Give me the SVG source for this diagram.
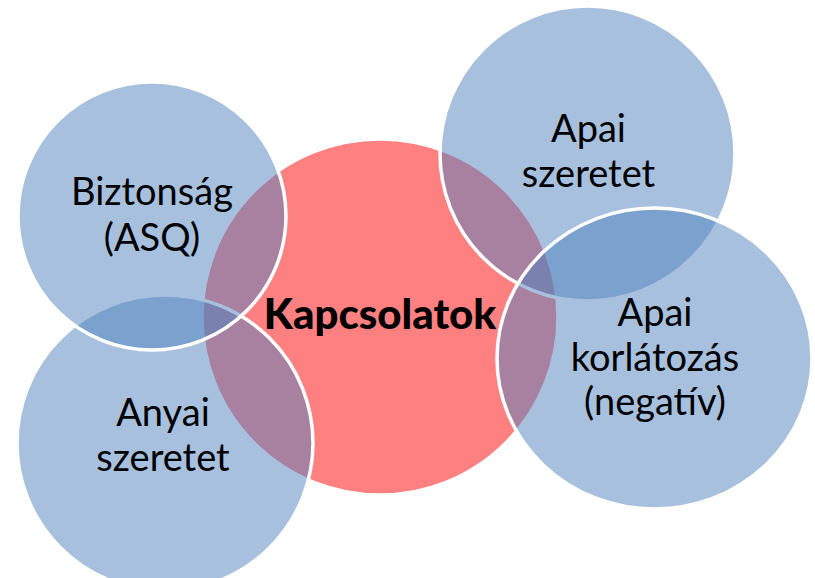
<svg xmlns="http://www.w3.org/2000/svg" width="815" height="578" viewBox="0 0 815 578">
<style>
.red{fill:#ff8080;stroke:#ffffff;stroke-width:3.5}
.blue{fill:#4f81bd;fill-opacity:0.5;stroke:#ffffff;stroke-width:3.5}
text{font-family:Lato,"Open Sans","DejaVu Sans",sans-serif;font-size:38px;fill:#000000;text-anchor:middle}
.bold{font-weight:900;font-size:42px}
</style>
<rect width="815" height="578" fill="#ffffff"/>
<g id="kapcsolatok-shape"><circle class="red" cx="380" cy="317" r="178"/></g>
<g id="anyai-shape"><circle class="blue" cx="165" cy="443" r="148"/></g>
<g id="biztonsag-shape"><circle class="blue" cx="152" cy="216" r="134"/></g>
<g id="apai-szeretet-shape"><circle class="blue" cx="587.5" cy="153.5" r="147.5"/></g>
<g id="apai-korlatozas-shape"><ellipse class="blue" cx="654.5" cy="358.5" rx="157.5" ry="150.5"/></g>
<g id="connectors"></g>
<g id="labels">
<text x="152" y="205">Biztonság</text>
<text x="152" y="251">(ASQ)</text>
<text x="588.5" y="142">Apai</text>
<text x="588.5" y="187">szeretet</text>
<text x="163" y="426">Anyai</text>
<text x="163" y="471">szeretet</text>
<text x="655" y="326">Apai</text>
<text x="655" y="371">korlátozás</text>
<text x="655" y="415">(negatív)</text>
<text class="bold" x="380" y="329">Kapcsolatok</text>
</g>
</svg>
